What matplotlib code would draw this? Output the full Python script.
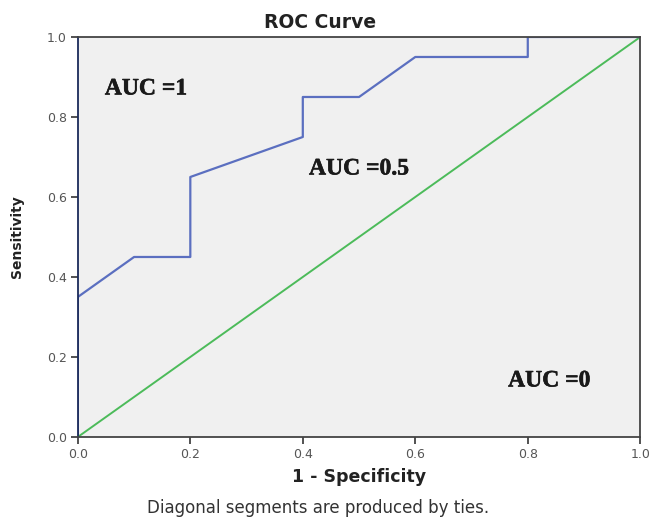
import matplotlib
matplotlib.use("Agg")
import matplotlib.pyplot as plt
import matplotlib.patheffects as pe

plt.rcParams["font.family"] = ["DejaVu Sans"]

fpr = [0.0, 0.0, 0.1, 0.2, 0.2, 0.4, 0.4, 0.5, 0.6, 0.8, 0.8, 1.0]
tpr = [0.0, 0.35, 0.45, 0.45, 0.65, 0.75, 0.85, 0.85, 0.95, 0.95, 1.0, 1.0]
ref_x = [0.0, 1.0]
ref_y = [0.0, 1.0]
ticks = [0.0, 0.2, 0.4, 0.6, 0.8, 1.0]
annotations = [("AUC =1", 0.048, 0.87), ("AUC =0.5", 0.411, 0.67), ("AUC =0", 0.765, 0.14)]

fig = plt.figure(figsize=(6.54, 5.18), dpi=100)
ax = fig.add_axes([0.119, 0.1564, 0.860, 0.7722])
ax.set_facecolor("#f0f0f0")
ax.plot(ref_x, ref_y, color="#4cbb5a", lw=1.4)
ax.plot(fpr, tpr, color="#5b6fc0", lw=1.6)
ax.set_xlim(0, 1)
ax.set_ylim(0, 1)
ax.set_xticks(ticks)
ax.set_yticks(ticks)
ax.set_xticklabels([f"{t:.1f}" for t in ticks])
ax.set_yticklabels([f"{t:.1f}" for t in ticks])
ax.tick_params(direction="out", length=5, width=1.2, colors="#333333", labelsize=9,
               labelcolor="#555555", pad=3)
for s in ax.spines.values():
    s.set_color("#444444")
    s.set_linewidth(1.3)
ax.spines["left"].set_color("#1a2a5a")

fig.text(0.489, 0.956, "ROC Curve", fontsize=13.5, fontweight="bold", color="#222222",
         ha="center", va="center")
ax.set_xlabel("1 - Specificity", fontsize=12.5, fontweight="bold", labelpad=5, color="#222222")
ax.set_ylabel("Sensitivity", fontsize=10, fontweight="bold", labelpad=16, color="#222222")

for txt, x, y in annotations:
    ax.text(x, y, txt, fontsize=17, fontweight="bold", family="Liberation Serif",
            color="#1a1a1a", va="center", ha="left",
            path_effects=[pe.withStroke(linewidth=0.4, foreground="#1a1a1a")])

fig.text(0.486, 0.019, "Diagonal segments are produced by ties.", fontsize=12,
         color="#333333", ha="center", va="center")

fig.savefig("out.png", dpi=100)
